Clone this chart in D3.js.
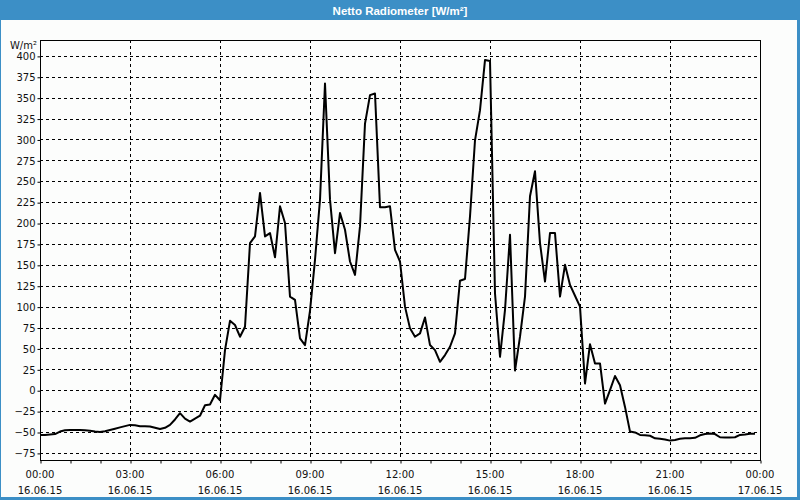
<!DOCTYPE html>
<html>
  <head>
    <meta charset="utf-8">
    <script src="https://d3js.org/d3.v7.min.js"></script>
    <style>
      body { margin:0; background:#fff; }
      svg { display:block; }
      .tick text { font-family: "DejaVu Sans", Verdana, sans-serif; font-size: 10px; fill: #111; }
    </style>
  </head>
  <body>
    <script>
    // readings every 10 minutes, 16.06.15
    var times = ["00:00","00:10","00:20","00:30","00:40","00:50","01:00","01:10","01:20","01:30","01:40","01:50",
      "02:00","02:10","02:20","02:30","02:40","02:50","03:00","03:10","03:20","03:30","03:40","03:50",
      "04:00","04:10","04:20","04:30","04:40","04:50","05:00","05:10","05:20","05:30","05:40","05:50",
      "06:00","06:10","06:20","06:30","06:40","06:50","07:00","07:10","07:20","07:30","07:40","07:50",
      "08:00","08:10","08:20","08:30","08:40","08:50","09:00","09:10","09:20","09:30","09:40","09:50",
      "10:00","10:10","10:20","10:30","10:40","10:50","11:00","11:10","11:20","11:30","11:40","11:50",
      "12:00","12:10","12:20","12:30","12:40","12:50","13:00","13:10","13:20","13:30","13:40","13:50",
      "14:00","14:10","14:20","14:30","14:40","14:50","15:00","15:10","15:20","15:30","15:40","15:50",
      "16:00","16:10","16:20","16:30","16:40","16:50","17:00","17:10","17:20","17:30","17:40","17:50",
      "18:00","18:10","18:20","18:30","18:40","18:50","19:00","19:10","19:20","19:30","19:40","19:50",
      "20:00","20:10","20:20","20:30","20:40","20:50","21:00","21:10","21:20","21:30","21:40","21:50",
      "22:00","22:10","22:20","22:30","22:40","22:50","23:00","23:10","23:20","23:30","23:40","23:50"];
    var values = [-53.5,-53.5,-53,-52.5,-49.5,-48,-47.5,-47.5,-47.5,-48,-48.5,-49.5,
      -50,-49,-47.5,-46,-44.5,-43,-41.5,-42,-43,-43,-43.5,-45,
      -46.5,-45,-41.5,-35,-27.5,-34,-37.5,-34,-30.5,-18,-17,-5.5,
      -12,48,83,78,64,76,176,184,236,184,188,159,
      220,200,112,108,62,54,95,156,228,367,228,164,
      212,192,154,138,196,319,353,355,219,219,220,168,
      154,100,74,64,68,87,54,48,34,42,52,68,
      131,133,208,299,335,395,394,116,40,96,186,23.5,
      64,112,232,262,176,130,188,188,112,150,126,113,
      100,8,55,32,32,-16,0,17,6,-20,-49.5,-50.5,
      -53.5,-54,-54.5,-57.5,-58,-59,-60.3,-59.5,-58,-57.5,-57.5,-57,
      -54,-52.5,-51.7,-52.5,-56.3,-56.5,-56.7,-56.3,-53.5,-53,-52,-52];

    var yTicks = [-75,-50,-25,0,25,50,75,100,125,150,175,200,225,250,275,300,325,350,375,400];
    var xLabels = ["00:00","03:00","06:00","09:00","12:00","15:00","18:00","21:00","00:00"];
    var xDates = ["16.06.15","16.06.15","16.06.15","16.06.15","16.06.15","16.06.15","16.06.15","16.06.15","17.06.15"];
    var title = "Netto Radiometer [W/m²]";
    var unit = "W/m²";

    var width = 800, height = 500;
    var plotL = 40, plotR = 760, plotT = 40, plotB = 460;

    function minutes(t) {
      var p = t.split(":");
      return +p[0] * 60 + +p[1];
    }

    var svg = d3.select("body").append("svg")
        .attr("width", width)
        .attr("height", height);

    // window frame + title bar
    svg.append("rect").attr("width", width).attr("height", height).attr("fill", "#3c8fc6");
    svg.append("rect").attr("x", 1).attr("y", 20).attr("width", width - 4).attr("height", height - 23)
        .attr("fill", "#fcfdfc");
    svg.append("text")
        .attr("x", width / 2).attr("y", 14.5)
        .attr("text-anchor", "middle")
        .attr("fill", "#fff")
        .style("font-family", "'Liberation Sans', Arial, sans-serif")
        .style("font-weight", "bold")
        .style("font-size", "11.5px")
        .text(title);

    var x = d3.scaleLinear().domain([0, 24 * 60]).range([plotL, plotR]);
    var y = d3.scaleLinear().domain([-83.5, 419]).range([plotB, plotT]);

    // grid lines
    var grid = svg.append("g").attr("stroke", "#000").attr("stroke-dasharray", "3,3").attr("shape-rendering", "crispEdges");
    grid.selectAll(".hg").data(yTicks).enter().append("line")
        .attr("x1", plotL).attr("x2", plotR)
        .attr("y1", function(d) { return Math.round(y(d)) + 0.5; })
        .attr("y2", function(d) { return Math.round(y(d)) + 0.5; });
    grid.selectAll(".vg").data(d3.range(1, 8)).enter().append("line")
        .attr("y1", plotT).attr("y2", plotB)
        .attr("x1", function(d) { return Math.round(x(d * 180)) + 0.5; })
        .attr("x2", function(d) { return Math.round(x(d * 180)) + 0.5; });

    // y axis
    var yAxis = d3.axisLeft(y).tickValues(yTicks).tickSize(3).tickSizeOuter(0).tickPadding(2);
    svg.append("g").attr("transform", "translate(" + (plotL + 0.5) + ",0.5)").call(yAxis)
        .call(function(g) { g.select(".domain").remove(); });

    // x axis, hourly ticks, labels every 3 hours
    var xAxis = d3.axisBottom(x).tickValues(d3.range(0, 25).map(function(h) { return h * 60; }))
        .tickSize(3).tickSizeOuter(0).tickFormat("");
    svg.append("g").attr("transform", "translate(0.5," + (plotB + 0.5) + ")").call(xAxis)
        .call(function(g) { g.select(".domain").remove(); });

    var xl = svg.append("g").style("font-family", "'DejaVu Sans', Verdana, sans-serif").style("font-size", "10px").attr("fill", "#111");
    xl.selectAll("text").data(xLabels).enter().append("text")
        .attr("x", function(d, i) { return x(i * 180); })
        .attr("y", 478)
        .attr("text-anchor", "middle")
        .text(function(d) { return d; });
    xl.selectAll(".dt").data(xDates).enter().append("text")
        .attr("x", function(d, i) { return x(i * 180); })
        .attr("y", 494)
        .attr("text-anchor", "middle")
        .text(function(d) { return d; });

    svg.append("text")
        .attr("x", 37).attr("y", 49)
        .attr("text-anchor", "end")
        .style("font-family", "'DejaVu Sans', Verdana, sans-serif").style("font-size", "10px").attr("fill", "#111")
        .text(unit);

    // plot frame
    svg.append("rect")
        .attr("x", plotL + 0.5).attr("y", plotT + 0.5)
        .attr("width", plotR - plotL).attr("height", plotB - plotT)
        .attr("fill", "none").attr("stroke", "#000");

    // data line
    var line = d3.line()
        .x(function(d, i) { return x(minutes(times[i])); })
        .y(function(d) { return y(d); });
    svg.append("path")
        .datum(values)
        .attr("fill", "none")
        .attr("stroke", "#000")
        .attr("stroke-width", 2)
        .attr("stroke-linejoin", "round")
        .attr("d", line);
    </script>
  </body>
</html>
